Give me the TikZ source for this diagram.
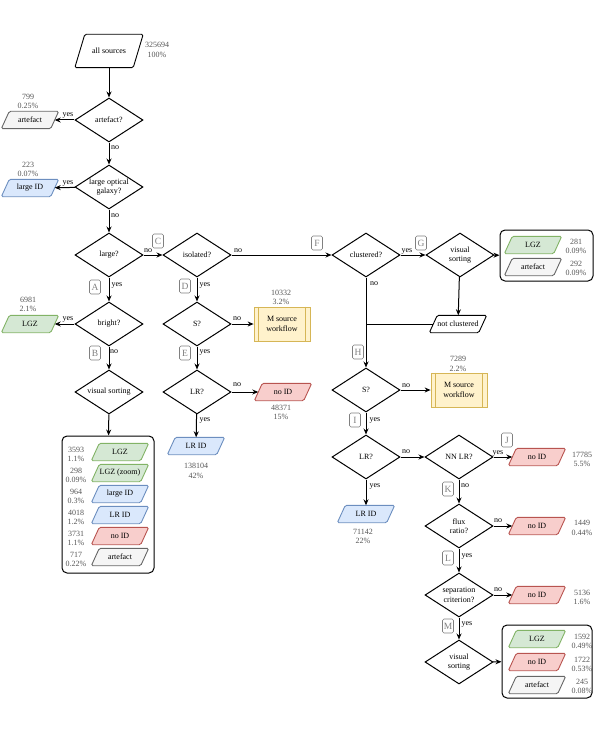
\documentclass[tikz,border=0pt]{standalone}
\usepackage{fontspec}
\setmainfont{Liberation Serif}
\usetikzlibrary{shapes.geometric,arrows.meta,backgrounds}
\definecolor{gF}{HTML}{D5E8D4}\definecolor{gD}{HTML}{82B366}
\definecolor{bF}{HTML}{DAE8FC}\definecolor{bD}{HTML}{6C8EBF}
\definecolor{rF}{HTML}{F8CECC}\definecolor{rD}{HTML}{B85450}
\definecolor{kF}{HTML}{F5F5F5}\definecolor{kD}{HTML}{666666}
\definecolor{yF}{HTML}{FFF2CC}\definecolor{yD}{HTML}{D6B656}
\definecolor{numc}{HTML}{555555}
\definecolor{tagc}{HTML}{808080}
\newcommand\pgm[4]{%
 \begin{scope}[on background layer]
 \draw[line width=0.9pt, rounded corners=1.5pt, fill=#3, draw=#4]
   ([xshift=-#2]#1.south west) -- ([xshift=#2]#1.north west) --
   ([xshift=#2]#1.north east) -- ([xshift=-#2]#1.south east) -- cycle;
 \end{scope}}
\begin{document}
\begin{tikzpicture}[x=1pt,y=-1pt,
 txt/.style={font=\fontsize{8}{9.5}\selectfont},
 dia/.style={diamond, draw, line width=1pt, minimum width=68pt, minimum height=44pt, inner sep=0pt, aspect=1.55, align=center, txt},
 pnode/.style={rectangle, minimum width=49pt, minimum height=17pt, inner sep=0pt, txt},
 proc/.style={rectangle, draw=yD, fill=yF, line width=0.8pt, minimum width=56pt, minimum height=34pt, align=center, txt, inner sep=0pt},
 grp/.style={rectangle, draw, line width=1pt, rounded corners=5pt},
 tag/.style={draw=tagc, text=tagc, rounded corners=1.5pt, minimum width=11pt, minimum height=14pt, inner sep=0pt, line width=0.6pt, font=\fontsize{9.5}{10}\selectfont},
 num/.style={text=numc, align=center, txt, inner sep=0pt},
 lab/.style={txt, inner sep=0pt},
 arr/.style={line width=1pt, -{Stealth[length=6pt,width=5pt]}},
 ln/.style={line width=1pt}
]
\useasboundingbox (0,0) rectangle (598,733);

% left column
\node[pnode, minimum width=58pt, minimum height=33pt] (all) at (109,51) {all sources};
\node[num] (nall) at (157,50) {325694\\100\%};
\node[dia] (art) at (109,120) {artefact?};
\node[pnode] (artp) at (30,120) {artefact};
\node[num] (nartp) at (28,101.5) {799\\0.25\%};
\node[dia] (lop) at (109,187) {large optical\\galaxy?};
\node[pnode] (lid) at (30,188) {large ID};
\node[num] (nlid) at (28,169.5) {223\\0.07\%};
\node[dia] (lg) at (109,255) {large?};
\node[dia] (br) at (109,324) {bright?};
\node[pnode] (lgz1) at (30,324) {LGZ};
\node[num] (nlgz1) at (28,304.5) {6981\\2.1\%};
\node[dia] (vs1) at (109,392) {visual sorting};
\node[grp, minimum width=92pt, minimum height=137pt] (box1) at (108,504.5) {};
\node[pnode] (b1a) at (120,452) {LGZ};
\node[pnode] (b1b) at (120,473) {LGZ (zoom)};
\node[pnode] (b1c) at (120,494) {large ID};
\node[pnode] (b1d) at (120,515) {LR ID};
\node[pnode] (b1e) at (120,536) {no ID};
\node[pnode] (b1f) at (120,557) {artefact};
\node[num] (n1a) at (76,454.5) {3593\\1.1\%};
\node[num] (n1b) at (76,475.5) {298\\0.09\%};
\node[num] (n1c) at (76,496.5) {964\\0.3\%};
\node[num] (n1d) at (76,517.5) {4018\\1.2\%};
\node[num] (n1e) at (76,538.5) {3731\\1.1\%};
\node[num] (n1f) at (76,559.5) {717\\0.22\%};

% second column
\node[dia] (iso) at (197,255) {isolated?};
\node[dia] (s1) at (197,324) {S?};
\node[proc] (ms1) at (282,324) {M source\\workflow};
\draw[yD, line width=0.8pt] ([xshift=5pt]ms1.north west) -- ([xshift=5pt]ms1.south west)
  ([xshift=-5pt]ms1.north east) -- ([xshift=-5pt]ms1.south east);
\node[num] (nms1) at (281,297.5) {10332\\3.2\%};
\node[dia] (lr1) at (197,392) {LR?};
\node[pnode] (nid1) at (283,392) {no ID};
\node[num] (nnid1) at (281,412.5) {48371\\15\%};
\node[pnode] (lrid1) at (196,446) {LR ID};
\node[num] (nlrid1) at (196,471) {138104\\42\%};

% right part
\node[dia] (cl) at (366,255) {clustered?};
\node[dia] (vs2) at (460,255) {visual\\sorting};
\node[grp, minimum width=93pt, minimum height=51pt] (box2) at (546.5,255.5) {};
\node[pnode] (lgz2) at (533,245) {LGZ};
\node[pnode] (art2) at (533,267) {artefact};
\node[num] (nlgz2) at (576,246.5) {281\\0.09\%};
\node[num] (nart2) at (576,268.5) {292\\0.09\%};
\node[pnode] (nc) at (458,324) {not clustered};
\coordinate (j) at (366,324);
\node[dia] (sH) at (366,390) {S?};
\node[proc] (ms2) at (459,390) {M source\\workflow};
\draw[yD, line width=0.8pt] ([xshift=5pt]ms2.north west) -- ([xshift=5pt]ms2.south west)
  ([xshift=-5pt]ms2.north east) -- ([xshift=-5pt]ms2.south east);
\node[num] (nms2) at (458,364) {7289\\2.2\%};
\node[dia] (lr2) at (366,457) {LR?};
\node[dia] (nn) at (459,457) {NN LR?};
\node[pnode] (nidJ) at (537,457) {no ID};
\node[num] (nnidJ) at (582,459.5) {17785\\5.5\%};
\node[pnode] (lrid2) at (366,514) {LR ID};
\node[num] (nlrid2) at (363,536.5) {71142\\22\%};
\node[dia] (fl) at (459,526) {flux\\ratio?};
\node[pnode] (nidL) at (537,526) {no ID};
\node[num] (nnidL) at (582,528) {1449\\0.44\%};
\node[dia] (sep) at (459,595) {separation\\criterion?};
\node[pnode] (nidS) at (537,595) {no ID};
\node[num] (nnidS) at (582,597.5) {5136\\1.6\%};
\node[dia] (vs3) at (459,662) {visual\\sorting};
\node[grp, minimum width=90pt, minimum height=73pt] (box3) at (547,661.5) {};
\node[pnode] (lgz3) at (537,639) {LGZ};
\node[pnode] (nid3) at (537,662) {no ID};
\node[pnode] (art3) at (537,685) {artefact};
\node[num] (n3a) at (582,641.5) {1592\\0.49\%};
\node[num] (n3b) at (582,664.5) {1722\\0.53\%};
\node[num] (n3c) at (582,686.5) {245\\0.08\%};

% parallelogram outlines
\pgm{all}{5pt}{white}{black}
\pgm{artp}{4pt}{kF}{kD}
\pgm{lid}{4pt}{bF}{bD}
\pgm{lgz1}{4pt}{gF}{gD}
\pgm{b1a}{4pt}{gF}{gD}
\pgm{b1b}{4pt}{gF}{gD}
\pgm{b1c}{4pt}{bF}{bD}
\pgm{b1d}{4pt}{bF}{bD}
\pgm{b1e}{4pt}{rF}{rD}
\pgm{b1f}{4pt}{kF}{kD}
\pgm{nid1}{4pt}{rF}{rD}
\pgm{lrid1}{4pt}{bF}{bD}
\pgm{lgz2}{4pt}{gF}{gD}
\pgm{art2}{4pt}{kF}{kD}
\pgm{nc}{4pt}{white}{black}
\pgm{nidJ}{4pt}{rF}{rD}
\pgm{lrid2}{4pt}{bF}{bD}
\pgm{nidL}{4pt}{rF}{rD}
\pgm{nidS}{4pt}{rF}{rD}
\pgm{lgz3}{4pt}{gF}{gD}
\pgm{nid3}{4pt}{rF}{rD}
\pgm{art3}{4pt}{kF}{kD}

% connectors
\draw[arr] (all) -- (art);
\draw[arr] (art) -- (artp);
\draw[arr] (art) -- (lop);
\draw[arr] (lop) -- (lid);
\draw[arr] (lop) -- (lg);
\draw[arr] (lg) -- (iso);
\draw[arr] (lg) -- (br);
\draw[arr] (br) -- (lgz1);
\draw[arr] (br) -- (vs1);
\draw[arr] (vs1) -- (box1);
\draw[arr] (iso) -- (s1);
\draw[arr] (s1) -- (ms1);
\draw[arr] (s1) -- (lr1);
\draw[arr] (lr1) -- (nid1);
\draw[arr] (lr1) -- (lrid1);
\draw[arr] (iso) -- (cl);
\draw[arr] (cl) -- (vs2);
\draw[arr] (vs2) -- (box2);
\draw[arr] (vs2) -- (nc);
\draw[arr] (cl) -- (sH);
\draw[ln] (nc.west) -- (j);
\draw[arr] (sH) -- (ms2);
\draw[arr] (sH) -- (lr2);
\draw[arr] (lr2) -- (nn);
\draw[arr] (nn) -- (nidJ);
\draw[arr] (lr2) -- (lrid2);
\draw[arr] (nn) -- (fl);
\draw[arr] (fl) -- (nidL);
\draw[arr] (fl) -- (sep);
\draw[arr] (sep) -- (nidS);
\draw[arr] (sep) -- (vs3);
\draw[arr] (vs3) -- (box3);

% edge labels
\node[lab] at (68,115) {yes};
\node[lab] at (115,148) {no};
\node[lab] at (68,183) {yes};
\node[lab] at (115,216) {no};
\node[lab] at (148,251) {no};
\node[lab] at (117,285) {yes};
\node[lab] at (68,319) {yes};
\node[lab] at (114,352) {no};
\node[lab] at (205,285) {yes};
\node[lab] at (237,319) {no};
\node[lab] at (205,352) {yes};
\node[lab] at (237,385) {no};
\node[lab] at (205,420) {yes};
\node[lab] at (238,251) {no};
\node[lab] at (407,251) {yes};
\node[lab] at (374,284) {no};
\node[lab] at (406,386) {no};
\node[lab] at (375,420) {yes};
\node[lab] at (406,452) {no};
\node[lab] at (498,453) {yes};
\node[lab] at (375,486) {yes};
\node[lab] at (465,486) {no};
\node[lab] at (498,521) {no};
\node[lab] at (467,556) {yes};
\node[lab] at (498,590) {no};
\node[lab] at (467,624) {yes};

% tags
\node[tag] (tA) at (95,287) {A};
\node[tag] (tB) at (95,353) {B};
\node[tag] (tC) at (158,241) {C};
\node[tag] (tD) at (185,286) {D};
\node[tag] (tE) at (185,353) {E};
\node[tag] (tF) at (317,243) {F};
\node[tag] (tG) at (421,243) {G};
\node[tag] (tH) at (358,352) {H};
\node[tag] (tI) at (355,420) {I};
\node[tag] (tJ) at (507,440) {J};
\node[tag] (tK) at (448,489) {K};
\node[tag] (tL) at (448,558) {L};
\node[tag] (tM) at (448,626) {M};
\end{tikzpicture}
\end{document}
